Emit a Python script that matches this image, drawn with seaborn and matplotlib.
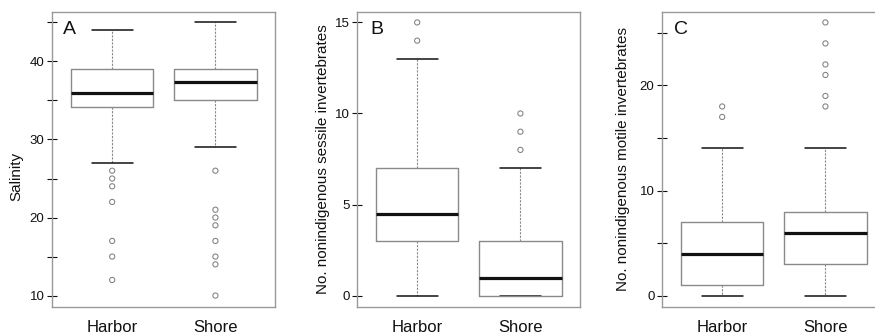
import numpy as np
import pandas as pd
import matplotlib
matplotlib.use("Agg")
import matplotlib.pyplot as plt
import seaborn as sns

sns.set_theme(style="white")
plt.rcParams['font.family'] = ['Liberation Sans', 'DejaVu Sans']
plt.rcParams['text.color'] = '#111111'
plt.rcParams['axes.labelcolor'] = '#111111'
plt.rcParams['xtick.labelcolor'] = '#111111'
plt.rcParams['ytick.labelcolor'] = '#111111'

categories = ["Harbor", "Shore"]

# Panel A: Salinity
sal_whislo = [27, 29]
sal_q1 = [34.2, 35]
sal_med = [36, 37.4]
sal_q3 = [39, 39]
sal_whishi = [44, 45]
sal_out_harbor = [26, 25, 24, 22, 17, 15, 12]
sal_out_shore = [26, 21, 20, 19, 17, 15, 14, 10]

# Panel B: sessile invertebrates
ses_whislo = [0, 0]
ses_q1 = [3, 0]
ses_med = [4.5, 0.95]
ses_q3 = [7, 3]
ses_whishi = [13, 7]
ses_out_harbor = [15, 14]
ses_out_shore = [10, 9, 8]

# Panel C: motile invertebrates
mot_whislo = [0, 0]
mot_q1 = [1, 3]
mot_med = [4, 6]
mot_q3 = [7, 8]
mot_whishi = [14, 14]
mot_out_harbor = [18, 17]
mot_out_shore = [26, 24, 22, 21, 19, 18]

panels = [
    dict(letter="A", ylabel="Salinity", whislo=sal_whislo, q1=sal_q1, med=sal_med,
         q3=sal_q3, whishi=sal_whishi, outs=[sal_out_harbor, sal_out_shore],
         ylim=(8.6, 46.4), ticks=[10, 15, 20, 25, 30, 35, 40, 45],
         labels=["10", "", "20", "", "30", "", "40", ""], left=52.3,
         lab_xy=(-0.13, 0.44), lx=0.05),
    dict(letter="B", ylabel="No. nonindigenous sessile invertebrates", whislo=ses_whislo,
         q1=ses_q1, med=ses_med, q3=ses_q3, whishi=ses_whishi,
         outs=[ses_out_harbor, ses_out_shore], ylim=(-0.6, 15.6),
         ticks=[0, 5, 10, 15], labels=["0", "5", "10", "15"], left=357.3,
         lab_xy=(-0.122, 0.5), lx=0.057),
    dict(letter="C", ylabel="No. nonindigenous motile invertebrates", whislo=mot_whislo,
         q1=mot_q1, med=mot_med, q3=mot_q3, whishi=mot_whishi,
         outs=[mot_out_harbor, mot_out_shore], ylim=(-1.04, 27.04),
         ticks=[0, 5, 10, 15, 20, 25], labels=["0", "", "10", "", "20", ""], left=662.3,
         lab_xy=(-0.145, 0.5), lx=0.052),
]

W, H = 875, 335
fig = plt.figure(figsize=(W / 100, H / 100), dpi=100)

box_col = "#8a8a8a"
for p in panels:
    ax = fig.add_axes([p["left"] / W, 28.5 / H, 223 / W, 295 / H])
    stats = []
    for i, c in enumerate(categories):
        stats.append(dict(label=c, whislo=p["whislo"][i], q1=p["q1"][i], med=p["med"][i],
                          q3=p["q3"][i], whishi=p["whishi"][i], fliers=[]))
    ax.bxp(stats, positions=[1, 2], widths=0.8, showfliers=False, patch_artist=False,
           boxprops=dict(color=box_col, linewidth=1.0, zorder=3),
           medianprops=dict(color="#111111", linewidth=2.3, solid_capstyle="butt", zorder=4),
           whiskerprops=dict(color=box_col, linewidth=0.8, linestyle=(0, (2.0, 1.2)), zorder=2),
           capprops=dict(color="#111111", linewidth=1.1, zorder=2),
           capwidths=0.4)
    rows = []
    for i, c in enumerate(categories):
        for v in p["outs"][i]:
            rows.append(dict(x=i + 1, y=v))
    df = pd.DataFrame(rows)
    sns.scatterplot(data=df, x="x", y="y", ax=ax, marker="o", s=14,
                    facecolors="none", edgecolor="#808080", linewidth=0.75, legend=False)
    ax.set_xlim(0.42, 2.58)
    ax.set_ylim(*p["ylim"])
    ax.set_xticks([1, 2])
    ax.set_xticklabels(categories, fontsize=12)
    ax.set_yticks(p["ticks"])
    ax.set_yticklabels(p["labels"], fontsize=9.5)
    ax.tick_params(axis="x", length=0, pad=10)
    ax.tick_params(axis="y", direction="inout", length=7.2, width=0.8, color="#111111", pad=2,
                   left=True)
    ax.set_xlabel("")
    ax.set_ylabel(p["ylabel"], fontsize=11)
    ax.yaxis.set_label_coords(*p["lab_xy"])
    for s in ax.spines.values():
        s.set_color("#999999")
        s.set_linewidth(1.0)
    ax.text(p["lx"], 0.968, p["letter"], transform=ax.transAxes, fontsize=14,
            ha="left", va="top")

fig.savefig("out.png", dpi=100)
